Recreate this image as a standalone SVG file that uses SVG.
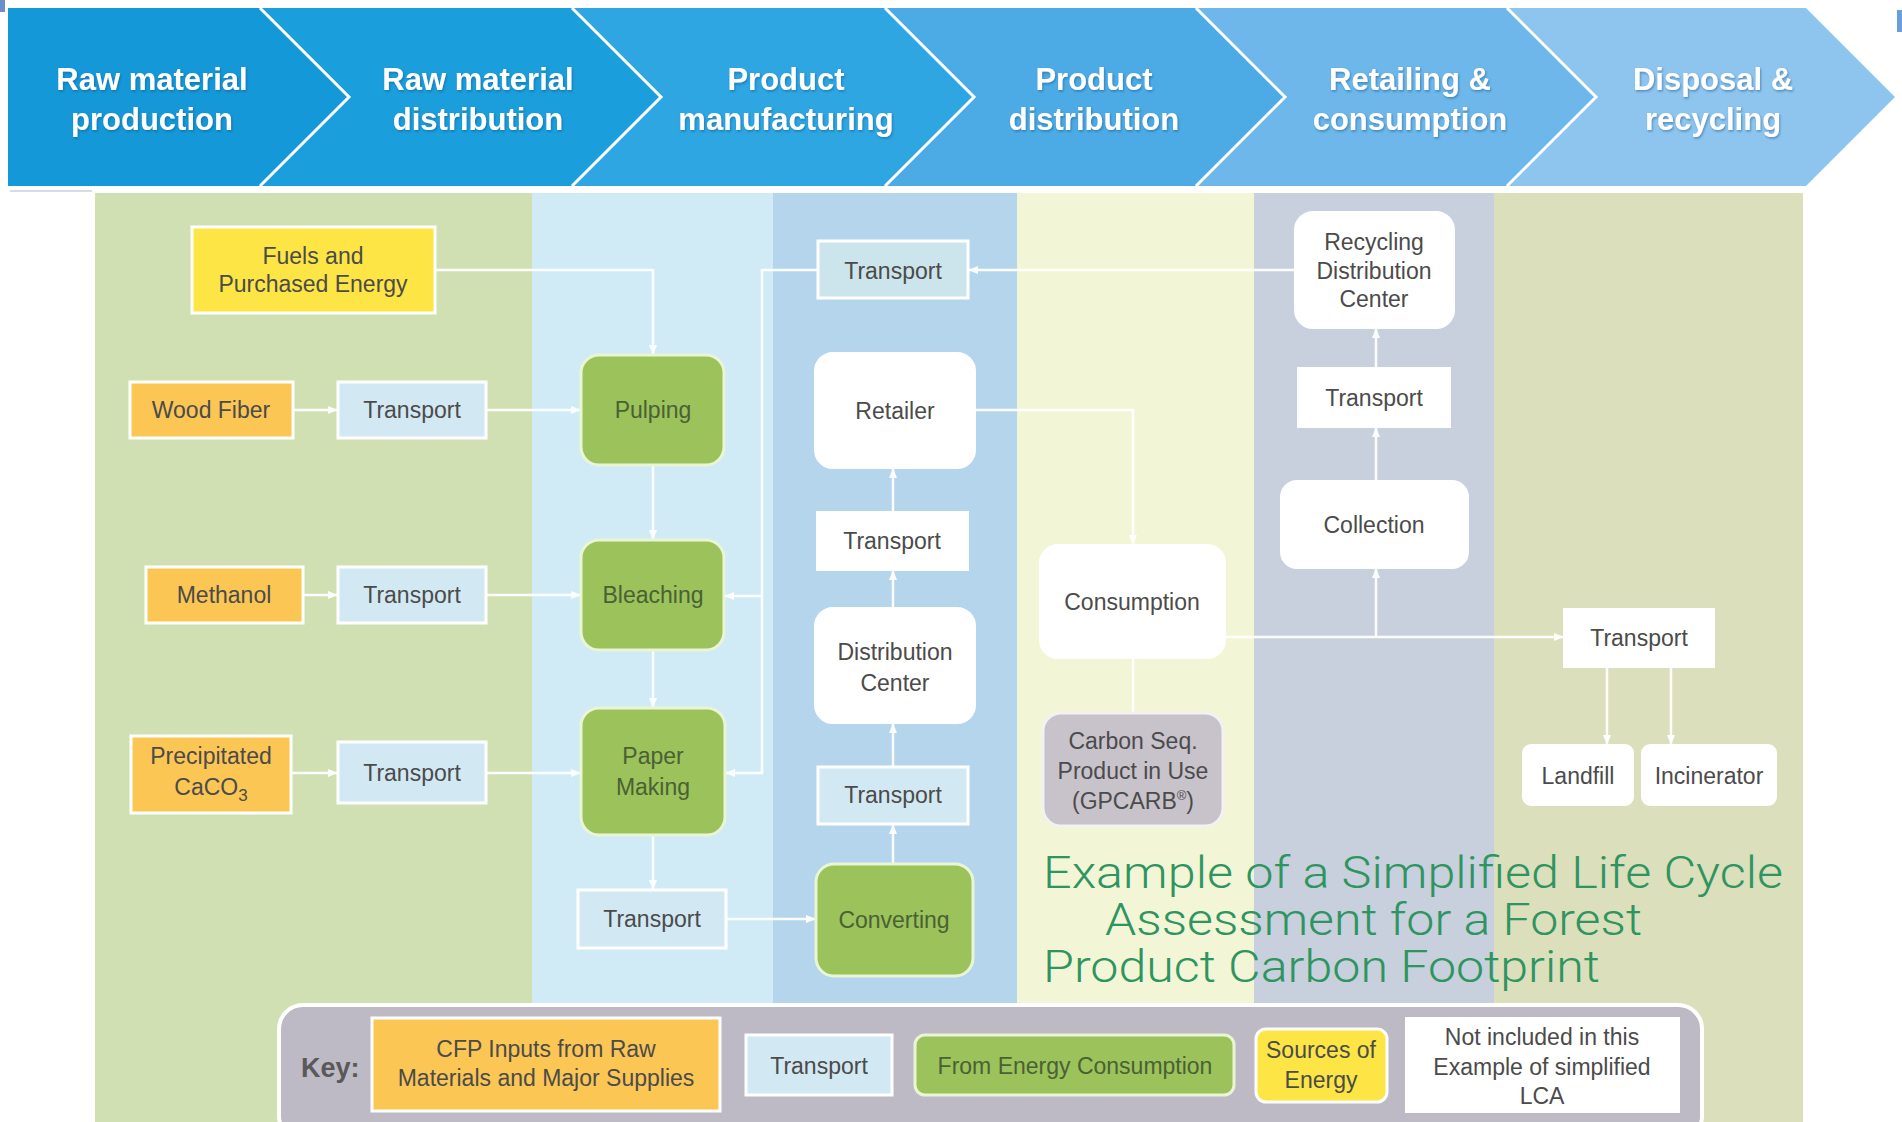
<svg xmlns="http://www.w3.org/2000/svg" width="1902" height="1122" viewBox="0 0 1902 1122">
<defs>
<style>
.bt{font-family:"Liberation Sans",Arial,sans-serif;font-weight:bold;font-size:31px;fill:#fff;text-anchor:middle}
.t{font-family:"Liberation Sans",Arial,sans-serif;font-size:23px;fill:#4b4b4b;text-anchor:middle}
.tg{font-family:"Liberation Sans",Arial,sans-serif;font-size:23px;fill:#4a6133;text-anchor:middle}
.tr{fill:#d2e9f3;stroke:#fff;stroke-width:3}
.or{fill:#fcc654;stroke:#fff;stroke-width:3}
.ye{fill:#fde545;stroke:#fff;stroke-width:3}
.gr{fill:#9cc25c;stroke:#eaf5d6;stroke-width:3}
.wh{fill:#fff;stroke:#fff;stroke-width:2}
.cn{fill:none;stroke:#fff;stroke-width:2.5;opacity:0.95}
.ti{font-family:Roboto,"Liberation Sans",Arial,sans-serif;font-weight:300;font-size:44px;fill:#2e9460}
</style>
<marker id="ah" viewBox="0 0 10 10" refX="10" refY="5" markerWidth="10" markerHeight="10" markerUnits="userSpaceOnUse" orient="auto">
<path d="M0,1 L10,5 L0,9 z" fill="#fff"/>
</marker>
<filter id="sh" x="-10%" y="-20%" width="120%" height="140%">
<feDropShadow dx="1" dy="1.5" stdDeviation="1.2" flood-color="#0a4f80" flood-opacity="0.5"/>
</filter>
</defs>
<rect width="1902" height="1122" fill="#fff"/>
<rect x="0" y="0" width="5" height="12" fill="#6a8fc8"/>
<rect x="1897" y="10" width="5" height="22" fill="#6a9fd8"/>

<!-- banner -->
<g id="banner">
<polygon points="8,8 260,8 349,97 260,186 8,186" fill="#1598d7"/>
<polygon points="260,8 572,8 661,97 572,186 260,186 349,97" fill="#1b9edc"/>
<polygon points="572,8 885,8 974,97 885,186 572,186 661,97" fill="#2ea6e2"/>
<polygon points="885,8 1196,8 1285,97 1196,186 885,186 974,97" fill="#4cabe5"/>
<polygon points="1196,8 1507,8 1596,97 1507,186 1196,186 1285,97" fill="#6db7ea"/>
<polygon points="1507,8 1806,8 1895,97 1806,186 1507,186 1596,97" fill="#8ec5ef"/>
<g fill="none" stroke="#fff" stroke-width="3">
<polyline points="260,8 349,97 260,186"/>
<polyline points="572,8 661,97 572,186"/>
<polyline points="885,8 974,97 885,186"/>
<polyline points="1196,8 1285,97 1196,186"/>
<polyline points="1507,8 1596,97 1507,186"/>
</g>
<g filter="url(#sh)">
<text class="bt" x="152" y="90">Raw material</text><text class="bt" x="152" y="130">production</text>
<text class="bt" x="478" y="90">Raw material</text><text class="bt" x="478" y="130">distribution</text>
<text class="bt" x="786" y="90">Product</text><text class="bt" x="786" y="130">manufacturing</text>
<text class="bt" x="1094" y="90">Product</text><text class="bt" x="1094" y="130">distribution</text>
<text class="bt" x="1410" y="90">Retailing &amp;</text><text class="bt" x="1410" y="130">consumption</text>
<text class="bt" x="1713" y="90">Disposal &amp;</text><text class="bt" x="1713" y="130">recycling</text>
</g>
</g>

<!-- columns -->
<g id="columns">
<line x1="10" y1="191" x2="92" y2="191" stroke="#d6dde0" stroke-width="2"/>
<rect x="95" y="193" width="437" height="929" fill="#d0e0b3"/>
<rect x="532" y="193" width="241" height="929" fill="#d1ebf6"/>
<rect x="773" y="193" width="244" height="929" fill="#b5d5ec"/>
<rect x="1017" y="193" width="237" height="929" fill="#f3f5d7"/>
<rect x="1254" y="193" width="240" height="929" fill="#c7d0dc"/>
<rect x="1494" y="193" width="309" height="929" fill="#dcdfbc"/>
</g>

<!-- connectors -->
<g id="connectors">
<path class="cn" d="M435,270 H653 V355" marker-end="url(#ah)"/>
<path class="cn" d="M293,410 H338" marker-end="url(#ah)"/>
<path class="cn" d="M486,410 H581" marker-end="url(#ah)"/>
<path class="cn" d="M653,465 V540" marker-end="url(#ah)"/>
<path class="cn" d="M303,595 H338" marker-end="url(#ah)"/>
<path class="cn" d="M486,595 H581" marker-end="url(#ah)"/>
<path class="cn" d="M653,650 V708" marker-end="url(#ah)"/>
<path class="cn" d="M291,773 H338" marker-end="url(#ah)"/>
<path class="cn" d="M486,773 H581" marker-end="url(#ah)"/>
<path class="cn" d="M653,835 V890" marker-end="url(#ah)"/>
<path class="cn" d="M726,919 H816" marker-end="url(#ah)"/>
<path class="cn" d="M893,864 V824" marker-end="url(#ah)"/>
<path class="cn" d="M893,767 V723" marker-end="url(#ah)"/>
<path class="cn" d="M893,608 V570" marker-end="url(#ah)"/>
<path class="cn" d="M893,512 V468" marker-end="url(#ah)"/>
<path class="cn" d="M975,410 H1133 V545" marker-end="url(#ah)"/>
<path class="cn" d="M1133,658 V713"/>
<path class="cn" d="M1225,637 H1564" marker-end="url(#ah)"/>
<path class="cn" d="M1376,637 V568" marker-end="url(#ah)"/>
<path class="cn" d="M1376,481 V427" marker-end="url(#ah)"/>
<path class="cn" d="M1376,368 V328" marker-end="url(#ah)"/>
<path class="cn" d="M1295,270 H968" marker-end="url(#ah)"/>
<path class="cn" d="M818,270 H762 V773 H725" marker-end="url(#ah)"/>
<path class="cn" d="M762,596 H724" marker-end="url(#ah)"/>
<path class="cn" d="M1607,667 V745" marker-end="url(#ah)"/>
<path class="cn" d="M1671,667 V745" marker-end="url(#ah)"/>
</g>

<!-- nodes -->
<g id="fuels"><rect class="ye" x="192" y="227" width="243" height="86"/><text class="t" x="313" y="264">Fuels and</text><text class="t" x="313" y="292">Purchased Energy</text></g>
<g id="wood-fiber"><rect class="or" x="130" y="382" width="163" height="56"/><text class="t" x="211" y="418">Wood Fiber</text></g>
<g id="transport-1"><rect class="tr" x="338" y="382" width="148" height="56"/><text class="t" x="412" y="418">Transport</text></g>
<g id="pulping"><rect class="gr" x="581" y="355" width="143" height="110" rx="18"/><text class="tg" x="653" y="418">Pulping</text></g>
<g id="methanol"><rect class="or" x="146" y="567" width="157" height="56"/><text class="t" x="224" y="603">Methanol</text></g>
<g id="transport-2"><rect class="tr" x="338" y="567" width="148" height="56"/><text class="t" x="412" y="603">Transport</text></g>
<g id="bleaching"><rect class="gr" x="581" y="540" width="143" height="110" rx="18"/><text class="tg" x="653" y="603">Bleaching</text></g>
<g id="caco3"><rect class="or" x="131" y="736" width="160" height="77"/><text class="t" x="211" y="764">Precipitated</text><text class="t" x="211" y="795">CaCO<tspan font-size="17" dy="6">3</tspan></text></g>
<g id="transport-3"><rect class="tr" x="338" y="742" width="148" height="61"/><text class="t" x="412" y="781">Transport</text></g>
<g id="paper-making"><rect class="gr" x="581" y="708" width="144" height="127" rx="18"/><text class="tg" x="653" y="764">Paper</text><text class="tg" x="653" y="795">Making</text></g>
<g id="transport-4"><rect class="tr" x="578" y="890" width="148" height="58"/><text class="t" x="652" y="927">Transport</text></g>
<g id="converting"><rect class="gr" x="816" y="864" width="157" height="112" rx="18"/><text class="tg" x="894" y="928">Converting</text></g>
<g id="transport-5"><rect class="tr" x="818" y="767" width="150" height="57"/><text class="t" x="893" y="803">Transport</text></g>
<g id="distribution-center"><rect class="wh" x="815" y="608" width="160" height="115" rx="18"/><text class="t" x="895" y="660">Distribution</text><text class="t" x="895" y="691">Center</text></g>
<g id="transport-6"><rect class="wh" x="817" y="512" width="151" height="58"/><text class="t" x="892" y="549">Transport</text></g>
<g id="retailer"><rect class="wh" x="815" y="353" width="160" height="115" rx="18"/><text class="t" x="895" y="419">Retailer</text></g>
<g id="transport-top"><rect x="818" y="241" width="150" height="57" fill="#cce4ec" stroke="#fff" stroke-width="3"/><text class="t" x="893" y="279">Transport</text></g>
<g id="recycling-dc"><rect class="wh" x="1295" y="212" width="159" height="116" rx="18"/><text class="t" x="1374" y="250">Recycling</text><text class="t" x="1374" y="279">Distribution</text><text class="t" x="1374" y="307">Center</text></g>
<g id="transport-7"><rect class="wh" x="1298" y="368" width="152" height="59"/><text class="t" x="1374" y="406">Transport</text></g>
<g id="collection"><rect class="wh" x="1281" y="481" width="187" height="87" rx="16"/><text class="t" x="1374" y="533">Collection</text></g>
<g id="consumption"><rect class="wh" x="1040" y="545" width="185" height="113" rx="18"/><text class="t" x="1132" y="610">Consumption</text></g>
<g id="carbon-seq"><rect x="1043" y="713" width="180" height="113" rx="18" fill="#c8c2cb" stroke="#f2f2f2" stroke-width="3"/><text class="t" x="1133" y="749">Carbon Seq.</text><text class="t" x="1133" y="779">Product in Use</text><text class="t" x="1133" y="809">(GPCARB<tspan font-size="13" dy="-9">®</tspan><tspan dy="9">)</tspan></text></g>
<g id="transport-8"><rect class="wh" x="1564" y="609" width="150" height="58"/><text class="t" x="1639" y="646">Transport</text></g>
<g id="landfill"><rect class="wh" x="1523" y="745" width="110" height="60" rx="8"/><text class="t" x="1578" y="784">Landfill</text></g>
<g id="incinerator"><rect class="wh" x="1642" y="745" width="134" height="60" rx="8"/><text class="t" x="1709" y="784">Incinerator</text></g>

<!-- title -->
<g id="title">
<text class="ti" x="1043" y="888" textLength="740" lengthAdjust="spacingAndGlyphs">Example of a Simplified Life Cycle</text>
<text class="ti" x="1105" y="935" textLength="537" lengthAdjust="spacingAndGlyphs">Assessment for a Forest</text>
<text class="ti" x="1043" y="982" textLength="557" lengthAdjust="spacingAndGlyphs">Product Carbon Footprint</text>
</g>

<!-- key -->
<g id="key">
<rect x="279" y="1005" width="1423" height="135" rx="24" fill="#bdb9c5" stroke="#fff" stroke-width="4"/>
<text x="301" y="1077" font-family="Liberation Sans,Arial,sans-serif" font-weight="bold" font-size="27" fill="#595959">Key:</text>
<rect class="or" x="372" y="1018" width="348" height="93"/>
<text class="t" x="546" y="1057" font-size="24">CFP Inputs from Raw</text>
<text class="t" x="546" y="1086" font-size="24">Materials and Major Supplies</text>
<rect class="tr" x="746" y="1035" width="146" height="60"/>
<text class="t" x="819" y="1074">Transport</text>
<rect class="gr" x="915" y="1035" width="319" height="60" rx="10"/>
<text class="tg" x="1075" y="1074" font-size="24">From Energy Consumption</text>
<rect class="ye" x="1256" y="1029" width="131" height="73" rx="10"/>
<text class="t" x="1321" y="1058">Sources of</text>
<text class="t" x="1321" y="1088">Energy</text>
<rect x="1405" y="1017" width="275" height="96" fill="#fff"/>
<text class="t" x="1542" y="1045">Not included in this</text>
<text class="t" x="1542" y="1075">Example of simplified</text>
<text class="t" x="1542" y="1104">LCA</text>
</g>
</svg>
